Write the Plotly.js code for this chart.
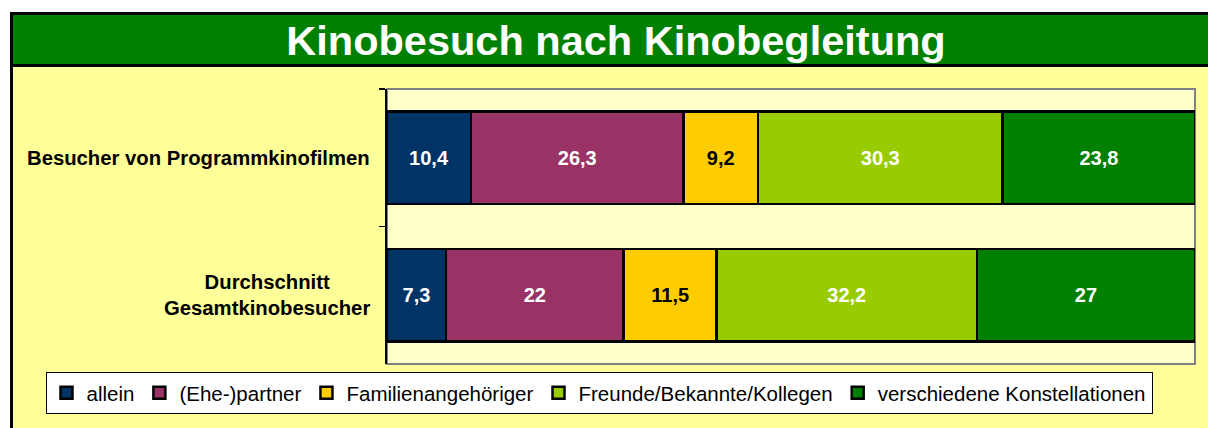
<!DOCTYPE html>
<html>
<head>
<meta charset="utf-8">
<script src="https://cdn.plot.ly/plotly-3.0.1.min.js"></script>
<style>
  html, body { margin: 0; padding: 0; background: #ffffff; }
  #chart { width: 1208px; height: 428px; }
</style>
</head>
<body>
<div id="chart"></div>
<script>
// ---- data ----
const chartTitle = 'Kinobesuch nach Kinobegleitung';
const categories = ['Besucher von Programmkinofilmen', 'Durchschnitt\nGesamtkinobesucher'];
const seriesNames = ['allein', '(Ehe-)partner', 'Familienangehöriger', 'Freunde/Bekannte/Kollegen', 'verschiedene Konstellationen'];
const allein = [10.4, 7.3];
const ehepartner = [26.3, 22];
const familie = [9.2, 11.5];
const freunde = [30.3, 32.2];
const verschiedene = [23.8, 27];
const seriesValues = [allein, ehepartner, familie, freunde, verschiedene];

// ---- style ----
const colors = ['#003366', '#993366', '#FFCC00', '#99CC00', '#008000'];
const labelColors = ['#ffffff', '#ffffff', '#000000', '#ffffff', '#ffffff'];
const FONT = '"Liberation Sans", Arial, sans-serif';

const W = 1208, H = 428;
const M = { l: 387, r: 13, t: 89, b: 64 };
const PW = W - M.l - M.r, PH = H - M.t - M.b;
const px = v => (v - M.l) / PW;            // pixel x -> paper x
const py = v => (H - M.b - v) / PH;        // pixel y -> paper y

const fmt = v => String(v).replace('.', ',');

const traces = seriesNames.map((name, i) => ({
  type: 'bar',
  orientation: 'h',
  name: name,
  y: categories,
  x: seriesValues[i],
  text: seriesValues[i].map(fmt),
  textposition: 'inside',
  insidetextanchor: 'middle',
  textangle: 0,
  constraintext: 'none',
  textfont: { family: FONT, size: 20, color: labelColors[i], weight: 'bold' },
  marker: { color: colors[i], line: { color: '#000000', width: 2.5 } },
  hoverinfo: 'skip'
}));

const shapes = [
  { type: 'rect', layer: 'below', xref: 'paper', yref: 'paper',
    x0: px(11.5), x1: px(1230), y0: py(13.5), y1: py(460),
    fillcolor: '#FFFF99', line: { color: '#000000', width: 3 } },
  { type: 'rect', layer: 'below', xref: 'paper', yref: 'paper',
    x0: px(11.5), x1: px(1230), y0: py(13.5), y1: py(65.5),
    fillcolor: '#008000', line: { color: '#000000', width: 3 } },
  { type: 'rect', layer: 'below', xref: 'paper', yref: 'paper',
    x0: 0, x1: 1, y0: 0, y1: 1,
    fillcolor: '#FFFFCC', line: { color: '#808080', width: 2 } }
];

const annotations = categories.map(c => ({
  xref: 'paper', yref: 'y', x: px(372), y: c,
  xanchor: 'right', yanchor: 'middle', align: 'center',
  text: c.replace('\n', '<br>'), showarrow: false,
  font: { family: FONT, size: 20.3, color: '#000000', weight: 'bold' }
}));

const layout = {
  width: W, height: H,
  margin: M,
  paper_bgcolor: '#ffffff',
  plot_bgcolor: 'rgba(0,0,0,0)',
  barmode: 'stack',
  bargap: 0.33,
  showlegend: true,
  title: {
    text: chartTitle,
    xref: 'container', yref: 'container',
    x: 616 / W, y: 1 - 40 / H, xanchor: 'center', yanchor: 'middle',
    font: { family: FONT, size: 41.5, color: '#ffffff', weight: 'bold' }
  },
  xaxis: { range: [0, 100], showgrid: false, zeroline: false, showline: false,
           showticklabels: false, ticks: '', fixedrange: true },
  yaxis: { type: 'category', autorange: 'reversed', showgrid: false, zeroline: false,
           showline: true, linecolor: '#000000', linewidth: 2,
           ticks: 'outside', tickson: 'boundaries', ticklen: 6, tickcolor: '#000000', tickwidth: 1.5,
           showticklabels: false, fixedrange: true },
  legend: {
    orientation: 'h', x: px(45.5), y: py(372), xanchor: 'left', yanchor: 'top',
    bgcolor: '#ffffff', bordercolor: '#000000', borderwidth: 1,
    font: { family: FONT, size: 20.5, color: '#000000' },
    traceorder: 'normal'
  },
  shapes: shapes,
  annotations: annotations
};

Plotly.newPlot('chart', traces, layout, { displayModeBar: false, staticPlot: true });
</script>
</body>
</html>
